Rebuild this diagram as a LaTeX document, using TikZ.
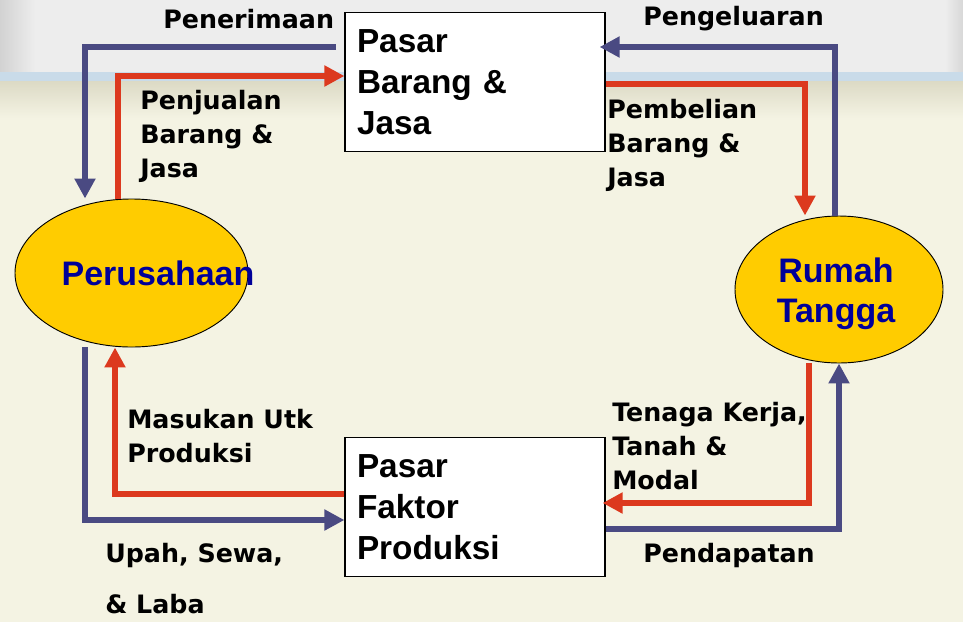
\documentclass[tikz,border=0pt]{standalone}
\usepackage{fontspec}
\usetikzlibrary{arrows.meta,shapes.geometric,calc}
\newfontfamily\lblfont{DejaVu Sans}
\newfontfamily\boxfont{Liberation Sans}
\definecolor{bgmain}{HTML}{F4F3E3}
\definecolor{bgtop}{HTML}{EDEDED}
\definecolor{bgleft}{HTML}{D2D2D2}
\definecolor{bandblue}{HTML}{C9DBE9}
\definecolor{bandbeige}{HTML}{DCDAC5}
\definecolor{flowred}{HTML}{DC391E}
\definecolor{flowblue}{HTML}{4A4A82}
\definecolor{ellfill}{HTML}{FFCC00}
\definecolor{elltext}{HTML}{000099}
\begin{document}
\begin{tikzpicture}[x=0.75pt,y=-0.75pt,
  market/.style={draw=black, line width=0.9pt, fill=white, minimum width=195pt, minimum height=104pt, text width=177pt, inner xsep=9pt, inner ysep=0pt, align=left, font=\boxfont\bfseries\fontsize{25}{30.75}\selectfont},
  agent/.style={ellipse, draw=black, line width=0.7pt, fill=ellfill, inner sep=0pt},
  agenttext/.style={text=elltext, font=\boxfont\bfseries\fontsize{25.5}{30}\selectfont, align=center, inner sep=0pt},
  flowlabel/.style={font=\lblfont\bfseries\fontsize{19}{25.5}\selectfont, align=left, inner sep=0pt, anchor=base west},
  flow/.style={line width=4.5pt, -{Triangle[length=15pt,width=15pt]}},
  redflow/.style={flow, draw=flowred},
  blueflow/.style={flow, draw=flowblue},
]
\useasboundingbox (0,0) rectangle (963,622);
% background
\fill[bgmain] (0,0) rectangle (963,622);
\fill[bgtop] (0,0) rectangle (963,72);
\shade[left color=bgleft, right color=bgtop] (0,0) rectangle (35,72);
\shade[left color=bgtop, right color=bgleft!80!bgtop] (945,0) rectangle (963,72);
\fill[bandblue] (0,72) rectangle (963,81);
\shade[top color=bandbeige, bottom color=bgmain] (0,81) rectangle (963,118);

% markets
\node[market] (pbj) at (475,82) {Pasar\\Barang \&\\Jasa};
\node[market] (pfp) at (475,507) {Pasar\\Faktor\\Produksi};

% agents
\node[agent, minimum width=174.75pt, minimum height=111pt] (perus) at (131.5,273) {};
\node[agenttext, anchor=base] (perustext) at (158,285) {Perusahaan};
\node[agent, minimum width=156pt, minimum height=110.25pt] (rt) at (839,289.5) {};
\node[agenttext, anchor=base] (rttext) at (836,322) {Rumah\\Tangga};

% flows
\coordinate (b1s) at (336,47);
\draw[blueflow] (b1s) -| (perus.north -| 85,0);
\draw[redflow] (perus.north -| 118,0) |- (pbj.west |- 0,76);
\draw[blueflow, shorten >=-4.5pt] (rt.north -| 835,0) |- (pbj.east |- 0,47);
\draw[redflow] (pbj.east |- 0,84) -| (rt.north -| 805,0);
\draw[blueflow] (perus.south -| 85,0) |- (pfp.west |- 0,520);
\draw[redflow] (pfp.west |- 0,494) -| (perus.south -| 115,0);
\draw[redflow, shorten >=-2.25pt] (rt.south -| 809,0) |- (pfp.east |- 0,503);
\draw[blueflow] (pfp.east |- 0,529) -| (rt.south -| 839,0);

% labels
\node[flowlabel] (l1) at (163,28) {Penerimaan};
\node[flowlabel] (l2) at (140,177) {Penjualan\\Barang \&\\Jasa};
\node[flowlabel] (l3) at (643,25) {Pengeluaran};
\node[flowlabel] (l4) at (607,186) {Pembelian\\Barang \&\\Jasa};
\node[flowlabel] (l5) at (127,462) {Masukan Utk\\Produksi};
\node[flowlabel] (l6) at (105,613) {Upah, Sewa,\\[12.75pt]\& Laba};
\node[flowlabel] (l7) at (612,489) {Tenaga Kerja,\\Tanah \&\\Modal};
\node[flowlabel] (l8) at (643,562) {Pendapatan};
\end{tikzpicture}
\end{document}
